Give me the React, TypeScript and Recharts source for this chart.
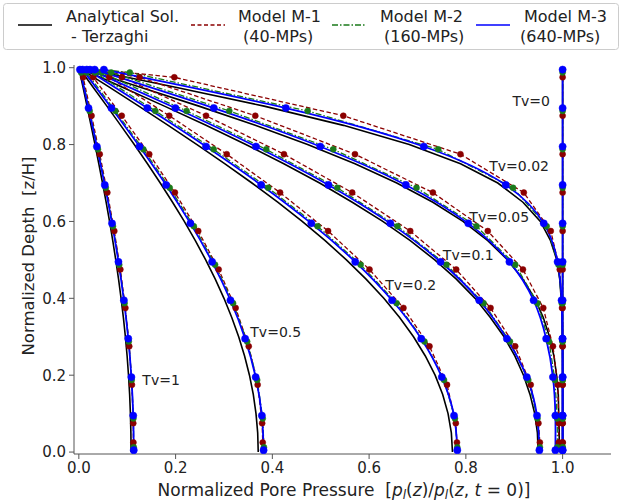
import { LineChart, Line, XAxis, YAxis, ReferenceDot } from "recharts";

// time factors shown on the plot
const tvLabels = ["0", "0.02", "0.05", "0.1", "0.2", "0.5", "1"];
// label anchor positions (pressure, depth) for each Tv text
const tvLabelP = [0.935, 0.91, 0.869, 0.805, 0.686, 0.407, 0.17];
const tvLabelZ = [0.913, 0.744, 0.612, 0.513, 0.435, 0.313, 0.188];

// depths for the analytical curves
const depthAnalytical = [
  1, 0.99, 0.975, 0.95, 0.9, 0.85, 0.8, 0.75, 0.7, 0.65, 0.6, 0.55, 0.5, 0.45,
  0.4, 0.35, 0.3, 0.25, 0.2, 0.15, 0.1, 0.05, 0,
];
// depths of the plotted material points
const depthM1 = [0.975, 0.875, 0.775, 0.675, 0.575, 0.475, 0.375, 0.275, 0.175, 0.075, 0.025];
const depthM2 = [0.9875, 0.8875, 0.7875, 0.6875, 0.5875, 0.4875, 0.3875, 0.2875, 0.1875, 0.0875, 0.0125];
const depthM3 = [0.995, 0.895, 0.795, 0.695, 0.595, 0.495, 0.395, 0.295, 0.195, 0.095, 0.005];

// analytical (Terzaghi) normalized pore pressure, one list per Tv
const analytical = [
  [1, 1, 1, 1, 1, 1, 1, 1, 1, 1, 1, 1, 1, 1, 1, 1, 1, 1, 1, 1, 1, 1, 1],
  [0, 0.0399, 0.0995, 0.1974, 0.383, 0.547, 0.683, 0.789, 0.866, 0.918, 0.954, 0.975, 0.988, 0.994, 0.997, 0.999, 0.9995, 1, 1, 1, 1, 1, 1],
  [0, 0.0252, 0.063, 0.1256, 0.2482, 0.3647, 0.4729, 0.5708, 0.6572, 0.7318, 0.7941, 0.8453, 0.8862, 0.9177, 0.9422, 0.96, 0.9729, 0.982, 0.9875, 0.991, 0.992, 0.993, 0.993],
  [0, 0.0178, 0.0446, 0.089, 0.1769, 0.2628, 0.3452, 0.4237, 0.4977, 0.5652, 0.6283, 0.6851, 0.7357, 0.7803, 0.8191, 0.8506, 0.8789, 0.9012, 0.9191, 0.9326, 0.9423, 0.9479, 0.9494],
  [0, 0.0125, 0.0311, 0.0622, 0.1239, 0.1847, 0.2442, 0.3021, 0.3578, 0.4111, 0.4617, 0.5091, 0.5531, 0.5937, 0.6304, 0.6631, 0.6918, 0.7162, 0.7364, 0.7521, 0.7632, 0.77, 0.7723],
  [0, 0.0058, 0.0146, 0.0291, 0.058, 0.0865, 0.1146, 0.1419, 0.1683, 0.1937, 0.218, 0.2408, 0.2622, 0.282, 0.3, 0.3161, 0.3304, 0.3426, 0.3527, 0.3606, 0.3662, 0.3697, 0.3708],
  [0, 0.0017, 0.0042, 0.0085, 0.0169, 0.0252, 0.0334, 0.0413, 0.049, 0.0564, 0.0635, 0.0701, 0.0763, 0.0821, 0.0873, 0.0921, 0.0962, 0.0998, 0.1027, 0.105, 0.1066, 0.1076, 0.108],
];

// Model M-1 (40 MPs)
const modelM1 = [
  [1, 1, 1, 1, 1, 1, 1, 1, 1, 1, 1],
  [0.1974, 0.5467, 0.7888, 0.9198, 0.9755, 0.9941, 0.9988, 0.9998, 1, 1, 1],
  [0.1256, 0.3647, 0.5708, 0.7318, 0.8453, 0.918, 0.96, 0.98, 0.99, 0.992, 0.992],
  [0.089, 0.263, 0.424, 0.565, 0.685, 0.78, 0.851, 0.902, 0.934, 0.95, 0.953],
  [0.0629, 0.1869, 0.3057, 0.416, 0.5152, 0.6008, 0.671, 0.7248, 0.7611, 0.7792, 0.7816],
  [0.0298, 0.0887, 0.1455, 0.1986, 0.2468, 0.289, 0.3241, 0.3512, 0.3696, 0.3789, 0.3801],
  [0.0089, 0.0263, 0.0432, 0.0589, 0.0733, 0.0858, 0.0962, 0.1042, 0.1097, 0.1125, 0.1128],
];

// Model M-2 (160 MPs)
const modelM2 = [
  [1, 1, 1, 1, 1, 1, 1, 1, 1, 1, 1],
  [0.1054, 0.473, 0.7427, 0.8975, 0.967, 0.9915, 0.9982, 0.9997, 1, 1, 1],
  [0.0668, 0.311, 0.526, 0.698, 0.822, 0.902, 0.948, 0.972, 0.984, 0.989, 0.989],
  [0.0472, 0.2227, 0.3873, 0.5343, 0.6587, 0.7599, 0.8366, 0.8911, 0.929, 0.948, 0.953],
  [0.0334, 0.1582, 0.2787, 0.3914, 0.4935, 0.5825, 0.6567, 0.7144, 0.7549, 0.7774, 0.7822],
  [0.0159, 0.0755, 0.1333, 0.1878, 0.2377, 0.2816, 0.3188, 0.3479, 0.3686, 0.3801, 0.3826],
  [0.0047, 0.0224, 0.0395, 0.0557, 0.0705, 0.0835, 0.0945, 0.1032, 0.1093, 0.1127, 0.1135],
];

// Model M-3 (640 MPs)
const modelM3 = [
  [1, 1, 1, 1, 1, 1, 1, 1, 1, 1, 1],
  [0.0518, 0.428, 0.713, 0.8824, 0.961, 0.9896, 0.9978, 0.9996, 1, 1, 1],
  [0.0328, 0.279, 0.499, 0.676, 0.805, 0.89, 0.94, 0.966, 0.98, 0.985, 0.985],
  [0.0232, 0.1995, 0.3661, 0.516, 0.6438, 0.7476, 0.8276, 0.8848, 0.926, 0.947, 0.952],
  [0.0164, 0.1416, 0.2629, 0.3768, 0.4805, 0.5713, 0.6474, 0.7077, 0.7503, 0.7755, 0.7823],
  [0.0078, 0.0674, 0.1254, 0.1803, 0.2307, 0.2755, 0.3134, 0.3437, 0.3655, 0.3783, 0.3819],
  [0.0023, 0.02, 0.0373, 0.0536, 0.0686, 0.0819, 0.0931, 0.1022, 0.1086, 0.1124, 0.1135],
];

const xTicks = [0, 0.2, 0.4, 0.6, 0.8, 1.0];
const yTicks = [0, 0.2, 0.4, 0.6, 0.8, 1.0];

const FONT = "DejaVu Sans";
const RED = "#8b0000";
const GREEN = "#1a7a1a";
const BLUE = "#0000ff";

type Pt = { p: number; z: number; start?: boolean };

const toPoints = (ps: number[], zs: number[], withStart: boolean): Pt[] => {
  const pts = ps.map((p, i) => ({ p, z: zs[i] }));
  return withStart ? [{ p: 0, z: 1, start: true }, ...pts] : pts;
};

const dotFor = (color: string, r: number) => (props: any) => {
  const { cx, cy, payload, index } = props;
  if (payload?.start || cx == null) return <g key={`n${index}`} />;
  return <circle key={`d${index}`} cx={cx} cy={cy} r={r} fill={color} stroke={color} strokeWidth={0.5} />;
};

const legendItems = [
  { l1: "Analytical Sol.", l2: " - Terzaghi", x1: 66, x2: 66, lx: 18, color: "#000", dash: undefined },
  { l1: "Model M-1", l2: " (40-MPs)", x1: 238, x2: 238, lx: 191, color: RED, dash: "4 2.5" },
  { l1: "Model M-2", l2: "(160-MPs)", x1: 380, x2: 384, lx: 332, color: GREEN, dash: "6 2 1.5 2" },
  { l1: "Model M-3", l2: "(640-MPs)", x1: 524, x2: 520, lx: 476, color: BLUE, dash: undefined },
];

function LegendBox() {
  return (
    <svg width={622} height={56} style={{ position: "absolute", left: 0, top: 0 }}>
      <rect x={3.5} y={3.5} width={615} height={46} rx={3} fill="#fff" stroke="#cccccc" />
      {legendItems.map((it) => (
        <g key={it.l1}>
          <line x1={it.lx} x2={it.lx + 34} y1={25} y2={25} stroke={it.color} strokeWidth={1.5} strokeDasharray={it.dash} />
          <text x={it.x1} y={22} fontSize={16} fontFamily={FONT} fill="#222" style={{ whiteSpace: "pre" }}>{it.l1}</text>
          <text x={it.x2} y={42} fontSize={16} fontFamily={FONT} fill="#222" style={{ whiteSpace: "pre" }}>{it.l2}</text>
        </g>
      ))}
    </svg>
  );
}

const XLabel = () => (
  <text x={344} y={496} textAnchor="middle" fontSize={17} fontFamily={FONT} fill="#222" style={{ whiteSpace: "pre" }}>
    Normalized Pore Pressure  [<tspan fontStyle="italic">p</tspan>
    <tspan fontSize={12} dy={3} fontStyle="italic">l</tspan>
    <tspan dy={-3}>(</tspan><tspan fontStyle="italic">z</tspan>)/<tspan fontStyle="italic">p</tspan>
    <tspan fontSize={12} dy={3} fontStyle="italic">l</tspan>
    <tspan dy={-3}>(</tspan><tspan fontStyle="italic">z</tspan>, <tspan fontStyle="italic">t</tspan> = 0)]
  </text>
);

const YLabel = () => (
  <text transform="rotate(-90)" x={-256} y={34} textAnchor="middle" fontSize={16.5} fontFamily={FONT} fill="#222" style={{ whiteSpace: "pre" }}>
    Normalized Depth  [z/H]
  </text>
);

export default function App() {
  const axisColor = "#555";
  const tickStyle = { fontSize: 15, fontFamily: FONT, fill: "#222" };
  return (
    <div style={{ position: "absolute", left: 0, top: 0, width: 622, height: 502, background: "#fff" }}>
      <LineChart width={622} height={502} margin={{ top: 65, right: 11, bottom: 8, left: 0 }}>
        <XAxis
          dataKey="p"
          type="number"
          domain={[-0.01, 1.1]}
          ticks={xTicks}
          allowDataOverflow
          height={40}
          tickSize={5}
          tickMargin={3}
          tickFormatter={(v: number) => v.toFixed(1)}
          tick={tickStyle}
          stroke={axisColor}
          label={{ content: () => <XLabel /> }}
        />
        <XAxis xAxisId="top" orientation="top" type="number" domain={[-0.01, 1.1]} allowDataOverflow height={0} tick={false} tickLine={false} stroke={axisColor} />
        <YAxis
          type="number"
          domain={[-0.005, 1.007]}
          ticks={yTicks}
          allowDataOverflow
          width={74}
          tickSize={5}
          tickMargin={3}
          tickFormatter={(v: number) => v.toFixed(1)}
          tick={tickStyle}
          stroke={axisColor}
          label={{ content: () => <YLabel /> }}
        />
        <YAxis yAxisId="right" orientation="right" type="number" domain={[-0.005, 1.007]} allowDataOverflow width={0} tick={false} tickLine={false} stroke={axisColor} />

        {analytical.map((ps, i) => (
          <Line
            key={`a${i}`}
            data={toPoints(ps, depthAnalytical, false)}
            dataKey="z"
            type="linear"
            stroke="#000"
            strokeWidth={1.6}
            dot={false}
            isAnimationActive={false}
          />
        ))}
        {modelM1.map((ps, i) => (
          <Line
            key={`m1${i}`}
            data={toPoints(ps, depthM1, i > 0)}
            dataKey="z"
            type="linear"
            stroke={RED}
            strokeWidth={1.3}
            strokeDasharray="4.5 2.5"
            dot={dotFor(RED, 3)}
            isAnimationActive={false}
          />
        ))}
        {modelM2.map((ps, i) => (
          <Line
            key={`m2${i}`}
            data={toPoints(ps, depthM2, i > 0)}
            dataKey="z"
            type="linear"
            stroke={GREEN}
            strokeWidth={1.3}
            strokeDasharray="6 2 1.5 2"
            dot={dotFor(GREEN, 3)}
            isAnimationActive={false}
          />
        ))}
        {modelM3.map((ps, i) => (
          <Line
            key={`m3${i}`}
            data={toPoints(ps, depthM3, false)}
            dataKey="z"
            type={i === 0 ? "linear" : "natural"}
            stroke={BLUE}
            strokeWidth={1.8}
            dot={dotFor(BLUE, 3.6)}
            isAnimationActive={false}
          />
        ))}
        {tvLabels.map((t, i) => (
          <ReferenceDot
            key={`t${t}`}
            x={tvLabelP[i]}
            y={tvLabelZ[i]}
            r={0}
            fill="none"
            stroke="none"
            label={{ value: `Tv=${t}`, position: "center", fontSize: 14, fontFamily: FONT, fill: "#222" }}
          />
        ))}
      </LineChart>
      <LegendBox />
    </div>
  );
}
